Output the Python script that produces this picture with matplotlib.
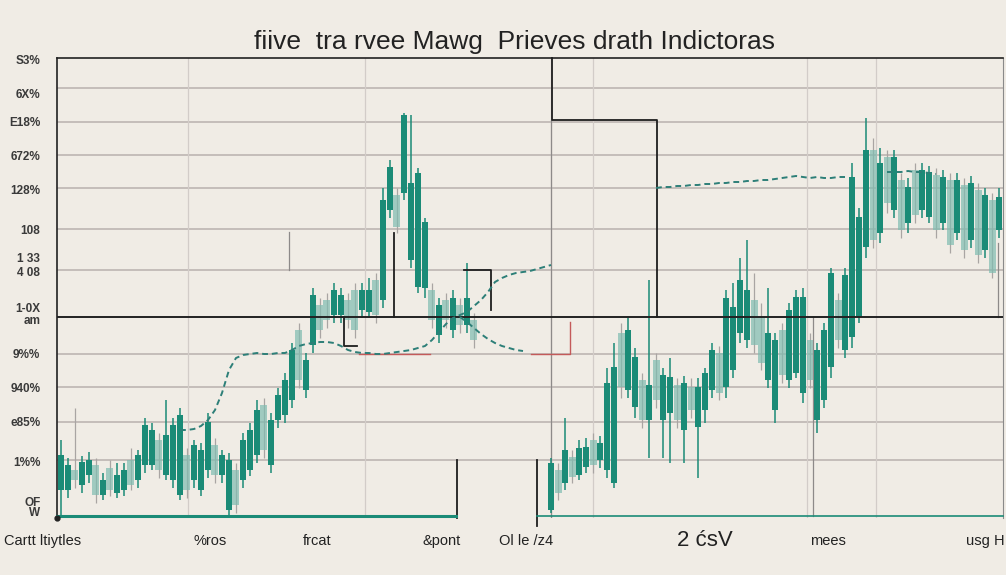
import numpy as np
import matplotlib
matplotlib.use("Agg")
import matplotlib.pyplot as plt

nan = np.nan
# ---- data (value units of the chart's hidden scale) ----
opens = [28,28,48,33,43,53,23,50,25,28,58,38,53,53,78,43,38,23,63,38,28,48,73,43,8,48,38,48,63,113,
         53,98,103,118,188,128,173,213,218,203,203,218,228,208,206,238,218,308,323,325,258,231,230,228,183,218,188,213,193,198,
         nan,nan,nan,nan,nan,nan,nan,nan,nan,nan,
         8,48,35,61,43,51,78,58,48,35,185,128,111,138,98,158,98,105,133,88,131,91,108,128,165,131,148,185,178,218,
         201,138,108,188,138,145,125,178,98,118,151,218,168,181,201,271,368,285,361,308,338,295,348,308,301,343,295,338,285,333,
         278,328,268,318,288]
closes = [63,53,38,56,58,23,38,28,43,48,33,63,93,88,48,83,93,103,28,73,68,96,43,63,58,13,78,88,108,68,
          98,123,138,168,138,158,223,188,198,228,223,198,188,228,228,203,318,351,291,403,335,345,296,198,213,198,220,193,220,178,
          nan,nan,nan,nan,nan,nan,nan,nan,nan,nan,
          55,25,68,41,70,71,53,75,135,151,131,188,161,98,133,118,143,141,98,135,108,131,145,168,125,220,211,238,228,173,
          155,185,178,143,208,221,221,138,168,188,245,178,243,341,301,368,278,355,315,361,288,331,303,348,346,288,341,273,338,268,
          335,263,323,245,321]
highs = [78,60,110,62,66,60,45,58,55,55,70,68,100,95,85,118,100,110,70,78,75,105,80,68,65,55,85,95,118,120,
         105,130,145,175,195,165,230,220,225,235,230,225,235,235,240,245,330,358,330,405,403,350,300,235,220,225,228,220,255,205,
         nan,nan,nan,nan,nan,nan,nan,nan,nan,nan,
         60,55,100,68,78,80,85,82,150,175,195,200,170,145,238,165,150,160,140,142,140,140,150,175,172,228,235,260,278,245,
         215,230,185,195,215,228,230,185,175,195,250,225,250,355,310,400,380,370,368,368,345,340,355,355,352,350,348,345,345,340,
         342,335,330,325,330]
lows = [3,20,30,25,35,15,18,22,20,22,28,30,45,48,40,38,30,18,20,30,22,40,35,35,3,5,30,42,55,60,
        45,90,95,110,130,120,165,180,190,195,195,190,180,200,200,195,210,300,285,318,250,225,220,190,175,190,180,185,185,170,
        nan,nan,nan,nan,nan,nan,nan,nan,nan,nan,
        5,18,28,35,38,45,45,50,40,30,120,120,100,90,60,110,60,55,90,55,100,40,95,120,118,120,140,175,170,165,
        148,130,95,135,130,140,115,130,85,110,140,170,160,170,195,260,270,275,305,300,280,285,295,300,295,280,288,265,278,260,
        270,255,260,240,280]

moving_avg = [nan]*17 + [88,88,89,92,98,108,125,148,160,163,164,165,164,164,165,165,168,172,174,175,176,176,175,172,
              168,166,165,165,164,164,165,166,167,168,170,172,178,186,194,200,203,206,212,218,226,236,240,243,245,246,
              247,249,251,253] + [nan]*14 + [330,331,331,332,332,333,333,334,334,335,335,336,336,337,337,338,338,339,340,
              341,342,341,340,341,340,340,341,341] + [nan]*5 + [346,346,346,347,346,346,345,344] + [nan]*9
moving_avg2 = [nan]*57 + [201,196,190,184,179,175,172,170,168,167] + [nan]*68

grid_levels = [430, 396, 363, 330, 289, 248, 164, 131, 96, 58]
key_level = 201
ytick_vals = [458, 425, 396, 362, 329, 288, 261, 247, 211, 198, 164, 131, 96, 57, 17, 6]
ytick_text = ["S3%", "6X%", "E18%", "672%", "128%", "108", "1 33", "4 08", "1-0X", "am",
              "9%%", "940%", "e85%", "1%%", "OF", "W"]
xlabels = ["Cartt ltiytles", "%ros", "frcat", "&pont", "Ol le /z4", "2 ćsV", "mees", "usg H"]
xlabel_pos = [-8.2, 21.3, 36.6, 54.4, 66.4, 92, 109.6, 132]
title = "fiive  tra rvee Mawg  Prieves drath Indictoras"

# level boxes / step lines (index, value) segments
black_segments = [([70.1, 70.1, 85.1, 85.1], [460, 398, 398, 201]),
                  ([47.6, 47.6], [285, 201]),
                  ([40.4, 40.4, 42.3], [201, 172, 172]),
                  ([56.6, 56.6], [58, 0]),
                  ([68, 68], [58, -8]),
                  ([57.6, 61.4, 61.4], [248, 248, 208])]
red_segments = [([67.1, 72.7, 72.7], [164, 164, 196]),
                ([42.6, 52.7], [164, 164])]
gray_segments = [([107.4, 107.4], [201, 2]),
                 ([32.6, 32.6], [286, 248]),
                 ([70, 70], [398, 0]),
                 ([133.9, 133.9], [275, 201])]
vgrid = [18.1, 43.4, 70, 76, 106.6, 116.4]

bg = "#f0ece5"
teal = "#1b8b77"
light = "#7fbcb1"

fig = plt.figure(figsize=(10.06, 5.75), dpi=100, facecolor=bg)
ax = fig.add_axes([57/1006, 57/575, 946/1006, 460/575], facecolor=bg)
ax.set_xlim(-0.57, 134.57)
ax.set_ylim(0, 460)

for g in grid_levels:
    ax.axhline(g, color="#b8b0ad", lw=1.1, zorder=1)
ax.axhline(key_level, color="#222222", lw=1.4, zorder=4)
for v in vgrid:
    ax.axvline(v, color="#d2ccc8", lw=0.9, zorder=1)

o = np.array(opens, float); c = np.array(closes, float)
h = np.array(highs, float); l = np.array(lows, float)
x = np.arange(len(o))
up = c >= o
dn = c < o
ax.vlines(x[up], l[up], h[up], color=teal, lw=1.1, zorder=3)
ax.vlines(x[dn], l[dn], h[dn], color="#a9a5a3", lw=0.9, zorder=2)
ax.bar(x[up], (c - o)[up], bottom=o[up], width=0.8, color=teal, zorder=3)
ax.bar(x[dn], (o - c)[dn], bottom=c[dn], width=1.0, color=light, alpha=0.7, zorder=2)

ax.plot(np.arange(len(moving_avg)), moving_avg, color="#2d7f78", lw=1.4, ls=(0, (3, 2)), zorder=5)
ax.plot(np.arange(len(moving_avg2)), moving_avg2, color="#2d7f78", lw=1.4, ls=(0, (3, 2)), zorder=5)

for xs, ys in black_segments:
    ax.plot(xs, ys, color="#1e1e1e", lw=1.3, zorder=4, clip_on=False)
for xs, ys in red_segments:
    ax.plot(xs, ys, color="#c45a5a", lw=1.0, zorder=4)
for xs, ys in gray_segments:
    ax.plot(xs, ys, color="#8d8a89", lw=0.9, zorder=2)

# bottom teal base line
ax.plot([-0.57, 56.4], [2, 2], color=teal, lw=2.2, zorder=4, clip_on=False)
ax.plot([68, 134.5], [2, 2], color=teal, lw=1.2, zorder=4, clip_on=False)
ax.plot([-0.57], [0], "o", color="#222", ms=3.5, clip_on=False, zorder=6)

ax.spines["bottom"].set_visible(False)
ax.spines["left"].set_color("#222"); ax.spines["left"].set_linewidth(1.2)
ax.spines["top"].set_color("#222"); ax.spines["top"].set_linewidth(1.2)
ax.spines["right"].set_color("#8a8a8a")

ax.set_yticks(ytick_vals)
ax.set_yticklabels(ytick_text, fontsize=8.5, fontweight="bold", color="#3a3a3a", family="Liberation Sans")
ax.tick_params(axis="y", length=0, pad=12)
ax.set_xticks([])
for t, p in zip(xlabels, xlabel_pos):
    fs = 16 if t.startswith("2") else 10.5
    ha = "left" if p < 0 else "center"
    ax.text(p, -23, t, ha=ha, va="center", fontsize=fs, color="#222", family="Liberation Sans")

fig.text(0.511, 0.927, title, ha="center", va="center", fontsize=19, color="#222", family="Liberation Sans")

fig.savefig("out.png", dpi=100, facecolor=bg)
